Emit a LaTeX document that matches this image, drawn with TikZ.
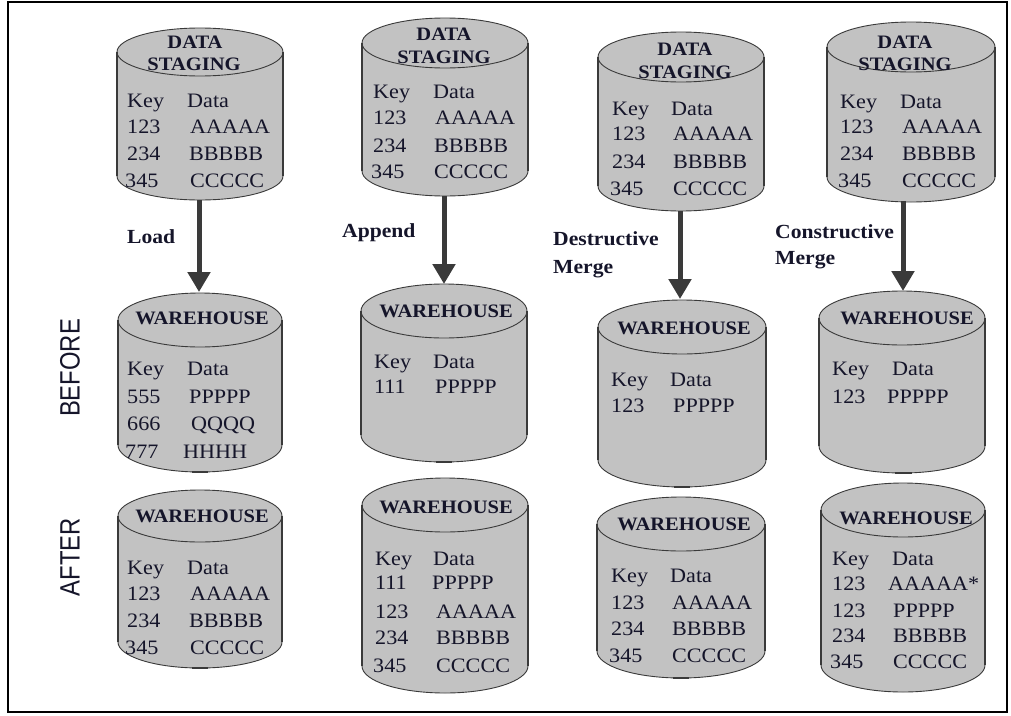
\documentclass[tikz,border=0pt]{standalone}
\usepackage{fontspec}
\setmainfont[FakeStretch=1.08]{Liberation Serif}
\newfontfamily\sidefont[FakeStretch=0.85]{Liberation Sans}
\usetikzlibrary{arrows.meta}
\definecolor{cylgray}{HTML}{C2C2C2}
\definecolor{edgegray}{HTML}{3A3A3A}
\definecolor{inkc}{HTML}{15152A}
\tikzset{
  cylfill/.style={fill=cylgray},
  cylline/.style={draw=edgegray,line width=0.9pt},
  cylside/.style={draw=edgegray,line width=2.6pt},
  cyltick/.style={draw=edgegray,line width=2.6pt},
  txt/.style={anchor=base west,inner sep=0pt,text=inkc,font=\fontsize{20.5}{24}\selectfont},
  hdr/.style={anchor=base,inner sep=0pt,text=inkc,font=\fontsize{19}{22}\selectfont\bfseries},
  lbl/.style={anchor=base west,inner sep=0pt,text=inkc,font=\fontsize{20}{22}\selectfont\bfseries},
  side/.style={rotate=90,inner sep=0pt,text=inkc,font=\fontsize{28}{30}\selectfont\sidefont},
  flow/.style={draw=edgegray,line width=5pt,-{Triangle[length=20pt,width=22pt]}},
  frame/.style={draw=black,line width=1.5pt}
}
\newcommand\cyl[6]{%
  \pgfmathsetmacro\cL{#2-#3}%
  \pgfmathsetmacro\cR{#2+#3}%
  \pgfmathsetmacro\yT{-(#4+#6)}%
  \pgfmathsetmacro\yB{-(#5-#6)}%
  \fill[cylfill] (\cL,\yT) -- (\cL,\yB) arc[start angle=180,end angle=360,x radius=#3,y radius=#6] -- (\cR,\yT) arc[start angle=0,end angle=180,x radius=#3,y radius=#6] -- cycle;
  \draw[cylline] (\cL,\yB) arc[start angle=180,end angle=360,x radius=#3,y radius=#6];
  \draw[cylline] (#2,\yT) ellipse[x radius=#3,y radius=#6];
  \draw[cylside] (\cL,\yT) -- (\cL,\yB);
  \draw[cylside] (\cR,\yT) -- (\cR,\yB);
  \coordinate (#1-top) at (#2,-#4);
  \coordinate (#1-bot) at (#2,-#5);
}
\newcommand\kv[6]{%
  \node[txt] (#1k) at (#2,-#4) {#5};
  \node[txt] (#1d) at (#3,-#4) {#6};
}
\begin{document}
\begin{tikzpicture}[x=1pt,y=1pt]
\useasboundingbox (0,0) rectangle (1011,-715);
\fill[white] (0,0) rectangle (1011,-715);
\draw[frame] (8,-2) rectangle (1007,-712);

% ---------- cylinders ----------
\cyl{s1}{200}{83}{28}{200}{24}
\cyl{w1b}{200}{82}{293}{472}{27}
\cyl{w1a}{200}{82}{490}{668}{26}
\cyl{s2}{445}{83}{18}{196}{25}
\cyl{w2b}{444}{83}{284}{462}{27}
\cyl{w2a}{445}{83}{478}{693}{27}
\cyl{s3}{681}{83}{32}{211}{25}
\cyl{w3b}{682}{84}{300}{487}{27}
\cyl{w3a}{681}{84}{497}{678}{27}
\cyl{s4}{911}{84}{22}{202}{25}
\cyl{w4b}{902}{83}{291}{473}{27}
\cyl{w4a}{903}{82}{483}{692}{27}

% bottom ticks
\draw[cyltick] (192,-472) -- (208,-472);
\draw[cyltick] (192,-668) -- (208,-668);
\draw[cyltick] (436,-462) -- (452,-462);
\draw[cyltick] (674,-487) -- (690,-487);
\draw[cyltick] (673,-678) -- (689,-678);
\draw[cyltick] (895,-473) -- (912,-473);

% ---------- headers ----------
\node[hdr] (s1h1) at (195,-48) {DATA};
\node[hdr] (s1h2) at (194,-70) {STAGING};
\node[hdr] (s2h1) at (444,-40) {DATA};
\node[hdr] (s2h2) at (444,-63) {STAGING};
\node[hdr] (s3h1) at (685,-55) {DATA};
\node[hdr] (s3h2) at (685,-78) {STAGING};
\node[hdr] (s4h1) at (905,-48) {DATA};
\node[hdr] (s4h2) at (905,-70) {STAGING};
\node[hdr] (w1bh) at (202,-324) {WAREHOUSE};
\node[hdr] (w1ah) at (202,-522) {WAREHOUSE};
\node[hdr] (w2bh) at (446,-317) {WAREHOUSE};
\node[hdr] (w2ah) at (446,-513) {WAREHOUSE};
\node[hdr] (w3bh) at (684,-334) {WAREHOUSE};
\node[hdr] (w3ah) at (684,-530) {WAREHOUSE};
\node[hdr] (w4bh) at (907,-324) {WAREHOUSE};
\node[hdr] (w4ah) at (906,-524) {WAREHOUSE};

% ---------- rows ----------
\kv{s1r0}{127}{187}{107}{Key}{Data}
\kv{s1r1}{127}{190}{133}{123}{AAAAA}
\kv{s1r2}{127}{189}{160}{234}{BBBBB}
\kv{s1r3}{125}{190}{187}{345}{CCCCC}

\kv{w1br0}{127}{187}{375}{Key}{Data}
\kv{w1br1}{127}{189}{403}{555}{PPPPP}
\kv{w1br2}{127}{191}{430}{666}{QQQQ}
\kv{w1br3}{125}{183}{458}{777}{HHHH}

\kv{w1ar0}{127}{187}{574}{Key}{Data}
\kv{w1ar1}{127}{190}{600}{123}{AAAAA}
\kv{w1ar2}{127}{189}{627}{234}{BBBBB}
\kv{w1ar3}{125}{190}{654}{345}{CCCCC}

\kv{s2r0}{373}{433}{98}{Key}{Data}
\kv{s2r1}{373}{435}{124}{123}{AAAAA}
\kv{s2r2}{373}{434}{152}{234}{BBBBB}
\kv{s2r3}{371}{434}{178}{345}{CCCCC}

\kv{w2br0}{374}{433}{368}{Key}{Data}
\kv{w2br1}{374}{435}{393}{111}{PPPPP}

\kv{w2ar0}{375}{433}{565}{Key}{Data}
\kv{w2ar1}{375}{432}{589}{111}{PPPPP}
\kv{w2ar2}{375}{436}{618}{123}{AAAAA}
\kv{w2ar3}{375}{436}{644}{234}{BBBBB}
\kv{w2ar4}{373}{436}{672}{345}{CCCCC}

\kv{s3r0}{612}{671}{115}{Key}{Data}
\kv{s3r1}{612}{673}{140}{123}{AAAAA}
\kv{s3r2}{612}{673}{168}{234}{BBBBB}
\kv{s3r3}{610}{673}{195}{345}{CCCCC}

\kv{w3br0}{611}{670}{386}{Key}{Data}
\kv{w3br1}{611}{673}{412}{123}{PPPPP}

\kv{w3ar0}{611}{670}{582}{Key}{Data}
\kv{w3ar1}{611}{672}{609}{123}{AAAAA}
\kv{w3ar2}{611}{672}{635}{234}{BBBBB}
\kv{w3ar3}{609}{672}{662}{345}{CCCCC}

\kv{s4r0}{840}{900}{108}{Key}{Data}
\kv{s4r1}{840}{902}{133}{123}{AAAAA}
\kv{s4r2}{840}{902}{160}{234}{BBBBB}
\kv{s4r3}{838}{902}{187}{345}{CCCCC}

\kv{w4br0}{832}{892}{375}{Key}{Data}
\kv{w4br1}{832}{887}{403}{123}{PPPPP}

\kv{w4ar0}{832}{892}{565}{Key}{Data}
\kv{w4ar1}{832}{888}{590}{123}{AAAAA*}
\kv{w4ar2}{832}{893}{617}{123}{PPPPP}
\kv{w4ar3}{832}{893}{642}{234}{BBBBB}
\kv{w4ar4}{830}{893}{668}{345}{CCCCC}

% ---------- operation labels ----------
\node[lbl] (load) at (127,-243) {Load};
\node[lbl] (append) at (342,-237) {Append};
\node[lbl] (dm1) at (553,-245) {Destructive};
\node[lbl] (dm2) at (553,-273) {Merge};
\node[lbl] (cm1) at (775,-238) {Constructive};
\node[lbl] (cm2) at (775,-264) {Merge};

% ---------- side labels ----------
\node[side] (before) at (70,-368) {BEFORE};
\node[side] (after) at (70,-557) {AFTER};

% ---------- arrows ----------
\coordinate (a1s) at (199,-200);
\coordinate (a1e) at (199,-292);
\coordinate (a2s) at (444,-196);
\coordinate (a2e) at (444,-284);
\coordinate (a3s) at (680,-211);
\coordinate (a3e) at (680,-299);
\coordinate (a4s) at (903,-201);
\coordinate (a4e) at (903,-291);
\draw[flow] (a1s) -- (a1e);
\draw[flow] (a2s) -- (a2e);
\draw[flow] (a3s) -- (a3e);
\draw[flow] (a4s) -- (a4e);
\end{tikzpicture}
\end{document}
